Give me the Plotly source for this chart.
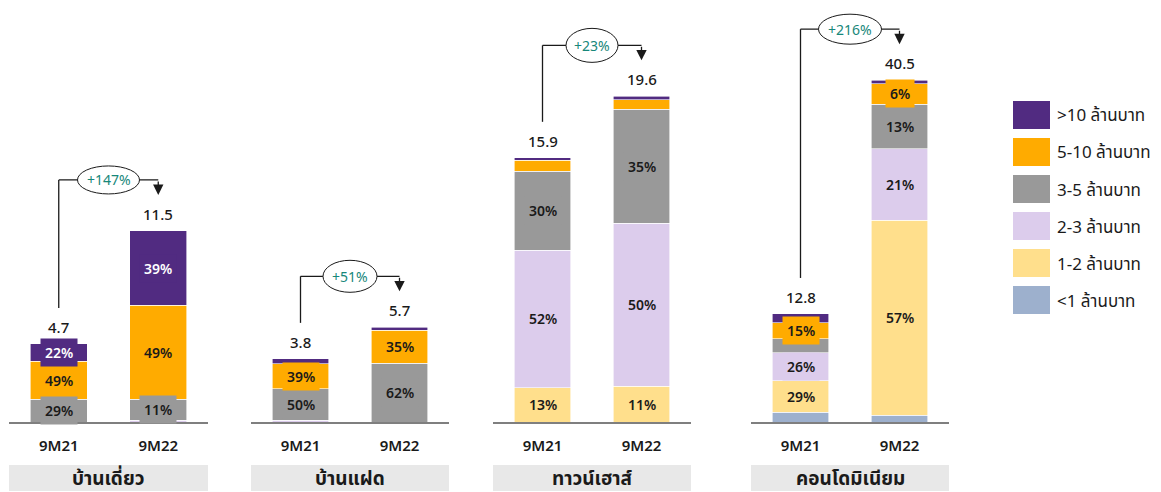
import plotly.graph_objects as go

# ---------------- data ----------------
periods = ["9M21", "9M22"]
segments = ["บ้านเดี่ยว", "บ้านแฝด", "ทาวน์เฮาส์", "คอนโดมิเนียม"]
# bar order: [detached 9M21, detached 9M22, twin 9M21, twin 9M22, town 9M21, town 9M22, condo 9M21, condo 9M22]
totals = [4.7, 11.5, 3.8, 5.7, 15.9, 19.6, 12.8, 40.5]
growth = ["+147%", "+51%", "+23%", "+216%"]

series_names = ["<1 ล้านบาท", "1-2 ล้านบาท", "2-3 ล้านบาท", "3-5 ล้านบาท", "5-10 ล้านบาท", ">10 ล้านบาท"]
share_lt1 = [0, 0, 0, 0, 0, 0, 9, 2]
share_1_2 = [0, 0, 0, 0, 13, 11, 29, 57]
share_2_3 = [0, 1, 3, 0, 52, 50, 26, 21]
share_3_5 = [29, 11, 50, 62, 30, 35, 13, 13]
share_5_10 = [49, 49, 39, 35, 4, 3, 15, 6]
share_gt10 = [22, 39, 8, 3, 1, 1, 8, 1]
shares = [share_lt1, share_1_2, share_2_3, share_3_5, share_5_10, share_gt10]

# labels: shown when share >= 10, with these exceptions (bar index, series index)
extra_labels = [(7, 4)]
hidden_labels = [(6, 3)]

# ---------------- style ----------------
series_colors = ["#9DB0CD", "#FFDF8C", "#DCCCEC", "#999999", "#FFAB00", "#512B81"]
label_colors = ["#1a1a1a", "#1a1a1a", "#1a1a1a", "#1a1a1a", "#1a1a1a", "#ffffff"]
FONT = "Tahoma, 'Noto Sans', 'Noto Sans Thai', sans-serif"
W, H = 1161, 492
PH = 422  # plot area height in px
y_max = [25.4, 25.4, 25.4, 50.0]
x_dom_px = [(9, 208), (251, 449), (493, 691), (751, 949)]
ell_w = [62, 54, 52, 63]
ell_h = [28, 32, 34, 30]

fig = go.Figure()
annotations = []
shapes = []

for p in range(4):
    sfx = "" if p == 0 else str(p + 1)
    xa, ya = "x" + sfx, "y" + sfx
    bars = [2 * p, 2 * p + 1]
    ppu = PH / y_max[p]  # px per unit

    cum = [0.0, 0.0]
    for s in range(6):
        vals = [totals[b] * shares[s][b] / 100 for b in bars]
        fig.add_trace(go.Bar(
            x=periods, y=vals, xaxis=xa, yaxis=ya, width=0.57,
            marker=dict(color=series_colors[s], line=dict(color="white", width=0.6)),
            name=series_names[s], showlegend=False, hoverinfo="skip",
        ))
        for k, b in enumerate(bars):
            v = shares[s][b]
            show = (v >= 10 or (b, s) in extra_labels) and (b, s) not in hidden_labels
            if show:
                annotations.append(dict(
                    x=k, y=cum[k] + vals[k] / 2, xref=xa, yref=ya, text=f"{v}%",
                    showarrow=False, bgcolor=series_colors[s], borderpad=4,
                    xanchor="center", yanchor="middle",
                    font=dict(size=14, color=label_colors[s], family=FONT, weight=600),
                ))
            cum[k] += vals[k]

    # totals above bars
    for k, b in enumerate(bars):
        annotations.append(dict(
            x=k, y=totals[b], xref=xa, yref=ya, text=f"{totals[b]}", showarrow=False,
            xanchor="center", yanchor="middle",
            yshift=17, font=dict(size=15, color="#1a1a1a", family=FONT, weight=500),
        ))

    # growth connector
    t1, t2 = totals[bars[0]], totals[bars[1]]
    level = max(t1, t2) + 51 / ppu
    start = t1 + 36 / ppu
    tip = t2 + 36 / ppu
    shapes.append(dict(type="line", xref=xa, yref=ya, x0=0, x1=0, y0=start, y1=level,
                       line=dict(color="#1a1a1a", width=1.3)))
    shapes.append(dict(type="line", xref=xa, yref=ya, x0=0, x1=1, y0=level, y1=level,
                       line=dict(color="#1a1a1a", width=1.3)))
    shapes.append(dict(type="circle", xref=xa, yref=ya, xsizemode="pixel", ysizemode="pixel",
                       xanchor=0.5, yanchor=level,
                       x0=-ell_w[p] / 2, x1=ell_w[p] / 2, y0=-ell_h[p] / 2, y1=ell_h[p] / 2,
                       fillcolor="white", line=dict(color="#1a1a1a", width=1)))
    annotations.append(dict(
        x=1, y=tip, xref=xa, yref=ya, ax=1, ay=level, axref=xa, ayref=ya, text="",
        showarrow=True, arrowhead=2, arrowsize=1.6, arrowwidth=1.3, arrowcolor="#1a1a1a",
    ))
    annotations.append(dict(
        x=0.5, y=level, xref=xa, yref=ya, text=growth[p], showarrow=False,
        xanchor="center", yanchor="middle",
        font=dict(size=14, color="#17877A", family=FONT),
    ))

    # segment name box
    shapes.append(dict(type="rect", xref=xa + " domain", yref="paper", x0=0, x1=1,
                       y0=-(491 - PH) / PH, y1=-(465 - PH) / PH,
                       fillcolor="#E8E8E8", line=dict(width=0), layer="below"))
    annotations.append(dict(
        x=0.5, y=-(478 - PH) / PH, xref=xa + " domain", yref="paper", text=f"<b>{segments[p]}</b>",
        showarrow=False, xanchor="center", yanchor="middle",
        font=dict(size=19, color="#1a1a1a", family=FONT),
    ))

    x0, x1 = x_dom_px[p]
    fig.layout[("xaxis" + sfx)] = dict(
        domain=[x0 / W, x1 / W], anchor=ya, type="category", range=[-0.5, 1.5],
        showline=True, linecolor="#7f7f7f", linewidth=2, showgrid=False, zeroline=False,
        ticks="outside", ticklen=9, tickcolor="rgba(0,0,0,0)",
        tickfont=dict(size=15, color="#1a1a1a", family=FONT, weight=600), fixedrange=True,
    )
    fig.layout[("yaxis" + sfx)] = dict(
        domain=[0, 1], anchor=xa, range=[0, y_max[p]], showgrid=False, zeroline=False,
        showticklabels=False, showline=False, fixedrange=True,
    )

# legend (top: >10 ... bottom: <1)
for i, s in enumerate(reversed(range(6))):
    cy = 115 + 37 * i
    shapes.append(dict(type="rect", xref="paper", yref="paper",
                       x0=1013 / W, x1=1050 / W, y0=1 - (cy + 14) / PH, y1=1 - (cy - 14) / PH,
                       fillcolor=series_colors[s], line=dict(width=0)))
    annotations.append(dict(
        x=1055 / W, y=1 - cy / PH, xref="paper", yref="paper", xanchor="left", yanchor="middle",
        text=series_names[s].replace("<", "&lt;").replace(">", "&gt;"), showarrow=False,
        font=dict(size=17, color="#1a1a1a", family=FONT),
    ))

fig.update_layout(
    width=W, height=H, margin=dict(l=0, r=0, t=0, b=H - PH),
    barmode="stack", showlegend=False,
    plot_bgcolor="white", paper_bgcolor="white",
    font=dict(family=FONT),
    annotations=annotations, shapes=shapes,
)

fig.write_html("out.html")
